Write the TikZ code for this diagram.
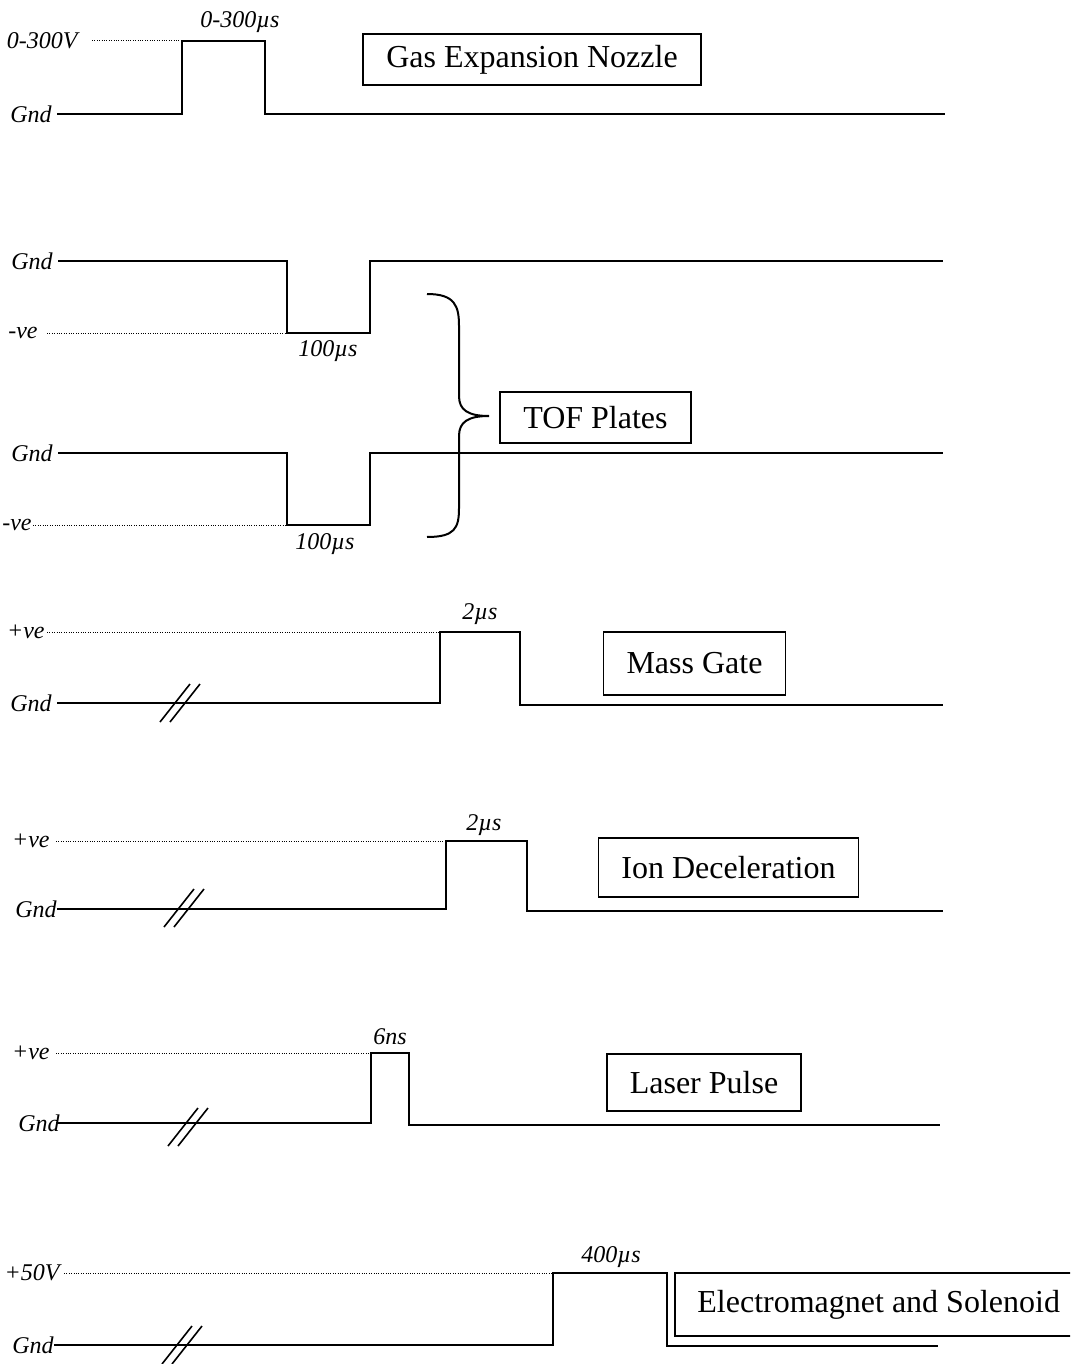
\documentclass[tikz,border=0pt]{standalone}
\usepackage{fontspec}
\setmainfont{Liberation Serif}
\usetikzlibrary{positioning}
\tikzset{
  wave/.style={line width=1pt,line join=miter},
  level/.style={line width=0.5pt,dash pattern=on 0.5pt off 0.7pt},
  lbl/.style={inner sep=0pt,font=\fontsize{12}{14}\selectfont\itshape},
  tag/.style={draw,line width=0.9pt,inner xsep=11.5pt,inner ysep=0pt,font=\fontsize{16}{19}\selectfont},
}

\begin{document}
\begin{tikzpicture}[x=0.5pt,y=-0.5pt]
        \useasboundingbox (0,0) rectangle (1070,1364);
        \clip (0,0) rectangle (1070,1364);
        % gas expansion nozzle
        \node[lbl,anchor=east] (noz-gnd) at (52,114) {Gnd};
        \node[lbl,anchor=east] (noz-hi) at (78,41) {0-300V};
        \draw[level] (92,41)--(182,41);
        \draw[wave] (57,114)--(182,114)--(182,41)--(265,41)--(265,114)--(945,114);
        \node[lbl] (noz-t) at (240,22) {0-300\textmu s};
        \node[tag,minimum height=25.5pt] (noz) at (532,59.5) {Gas Expansion Nozzle};
        % TOF plates
        \node[lbl,anchor=east] (tofa-gnd) at (53,261) {Gnd};
        \node[lbl,anchor=east] (tofa-lo) at (38,333) {-ve};
        \draw[level] (47,333)--(287,333);
        \draw[wave] (58,261)--(287,261)--(287,333)--(370,333)--(370,261)--(943,261);
        \node[lbl] (tofa-t) at (328,351) {100\textmu s};
        \node[lbl,anchor=east] (tofb-gnd) at (53,453) {Gnd};
        \node[lbl,anchor=east] (tofb-lo) at (32,525) {-ve};
        \draw[level] (33,525)--(287,525);
        \draw[wave] (58,453)--(287,453)--(287,525)--(370,525)--(370,453)--(943,453);
        \node[lbl] (tofb-t) at (325,544) {100\textmu s};
        \draw[wave] (427,294) .. controls (455,294) and (459,306) .. (459,326) -- (459,396)
          .. controls (459,410) and (468,416) .. (489,416)
          .. controls (468,416) and (459,422) .. (459,436) -- (459,508)
          .. controls (459,528) and (455,537) .. (427,537);
        \node[tag,minimum height=25.5pt] (tof) at (595.5,417.5) {TOF Plates};
        % mass gate
        \node[lbl,anchor=east] (mg-gnd) at (52,703) {Gnd};
        \node[lbl,anchor=east] (mg-hi) at (45,632) {+ve};
        \draw[level] (47,632)--(440,632);
        \draw[wave] (57,703)--(440,703)--(440,632)--(520,632)--(520,705)--(943,705);
        \node[lbl] (mg-t) at (480,614) {2\textmu s};
        \node[tag,minimum height=31.5pt] (mg) at (694.5,663.5) {Mass Gate};
        % ion deceleration
        \node[lbl,anchor=east] (id-gnd) at (57,909) {Gnd};
        \node[lbl,anchor=east] (id-hi) at (50,841) {+ve};
        \draw[level] (56,841)--(446,841);
        \draw[wave] (57,909)--(446,909)--(446,841)--(527,841)--(527,911)--(943,911);
        \node[lbl] (id-t) at (484,825) {2\textmu s};
        \node[tag,minimum height=29.5pt] (id) at (728.5,867.5) {Ion Deceleration};
        % laser pulse
        \node[lbl,anchor=east] (lp-gnd) at (60,1123) {Gnd};
        \node[lbl,anchor=east] (lp-hi) at (50,1053) {+ve};
        \draw[level] (56,1053)--(371,1053);
        \draw[wave] (56,1123)--(371,1123)--(371,1053)--(409,1053)--(409,1125)--(940,1125);
        \node[lbl] (lp-t) at (390,1037) {6ns};
        \node[tag,minimum height=28.5pt] (lp) at (704,1082.5) {Laser Pulse};
        % electromagnet and solenoid (box runs off the page)
        \node[lbl,anchor=east] (em-gnd) at (54,1345) {Gnd};
        \node[lbl,anchor=east] (em-hi) at (60,1273) {+50V};
        \draw[level] (64,1273)--(553,1273);
        \draw[wave] (54,1345)--(553,1345)--(553,1273)--(667,1273)--(667,1346)--(938,1346);
        \node[lbl] (em-t) at (611,1257) {400\textmu s};
        \draw[line width=0.9pt] (675,1273) rectangle (1120,1336);
        \node[inner sep=0pt,anchor=west,font=\fontsize{16}{19}\selectfont] (em) at (697,1304.5) {Electromagnet and Solenoid};
        % time breaks
        \foreach \cx/\cy in {180/703,184/908,188/1127,182/1345}{
          \foreach \s in {-5,5}{\draw[line width=0.8pt] (\cx+\s-15,\cy+19)--(\cx+\s+15,\cy-19);}
        }
      \end{tikzpicture}
\end{document}
